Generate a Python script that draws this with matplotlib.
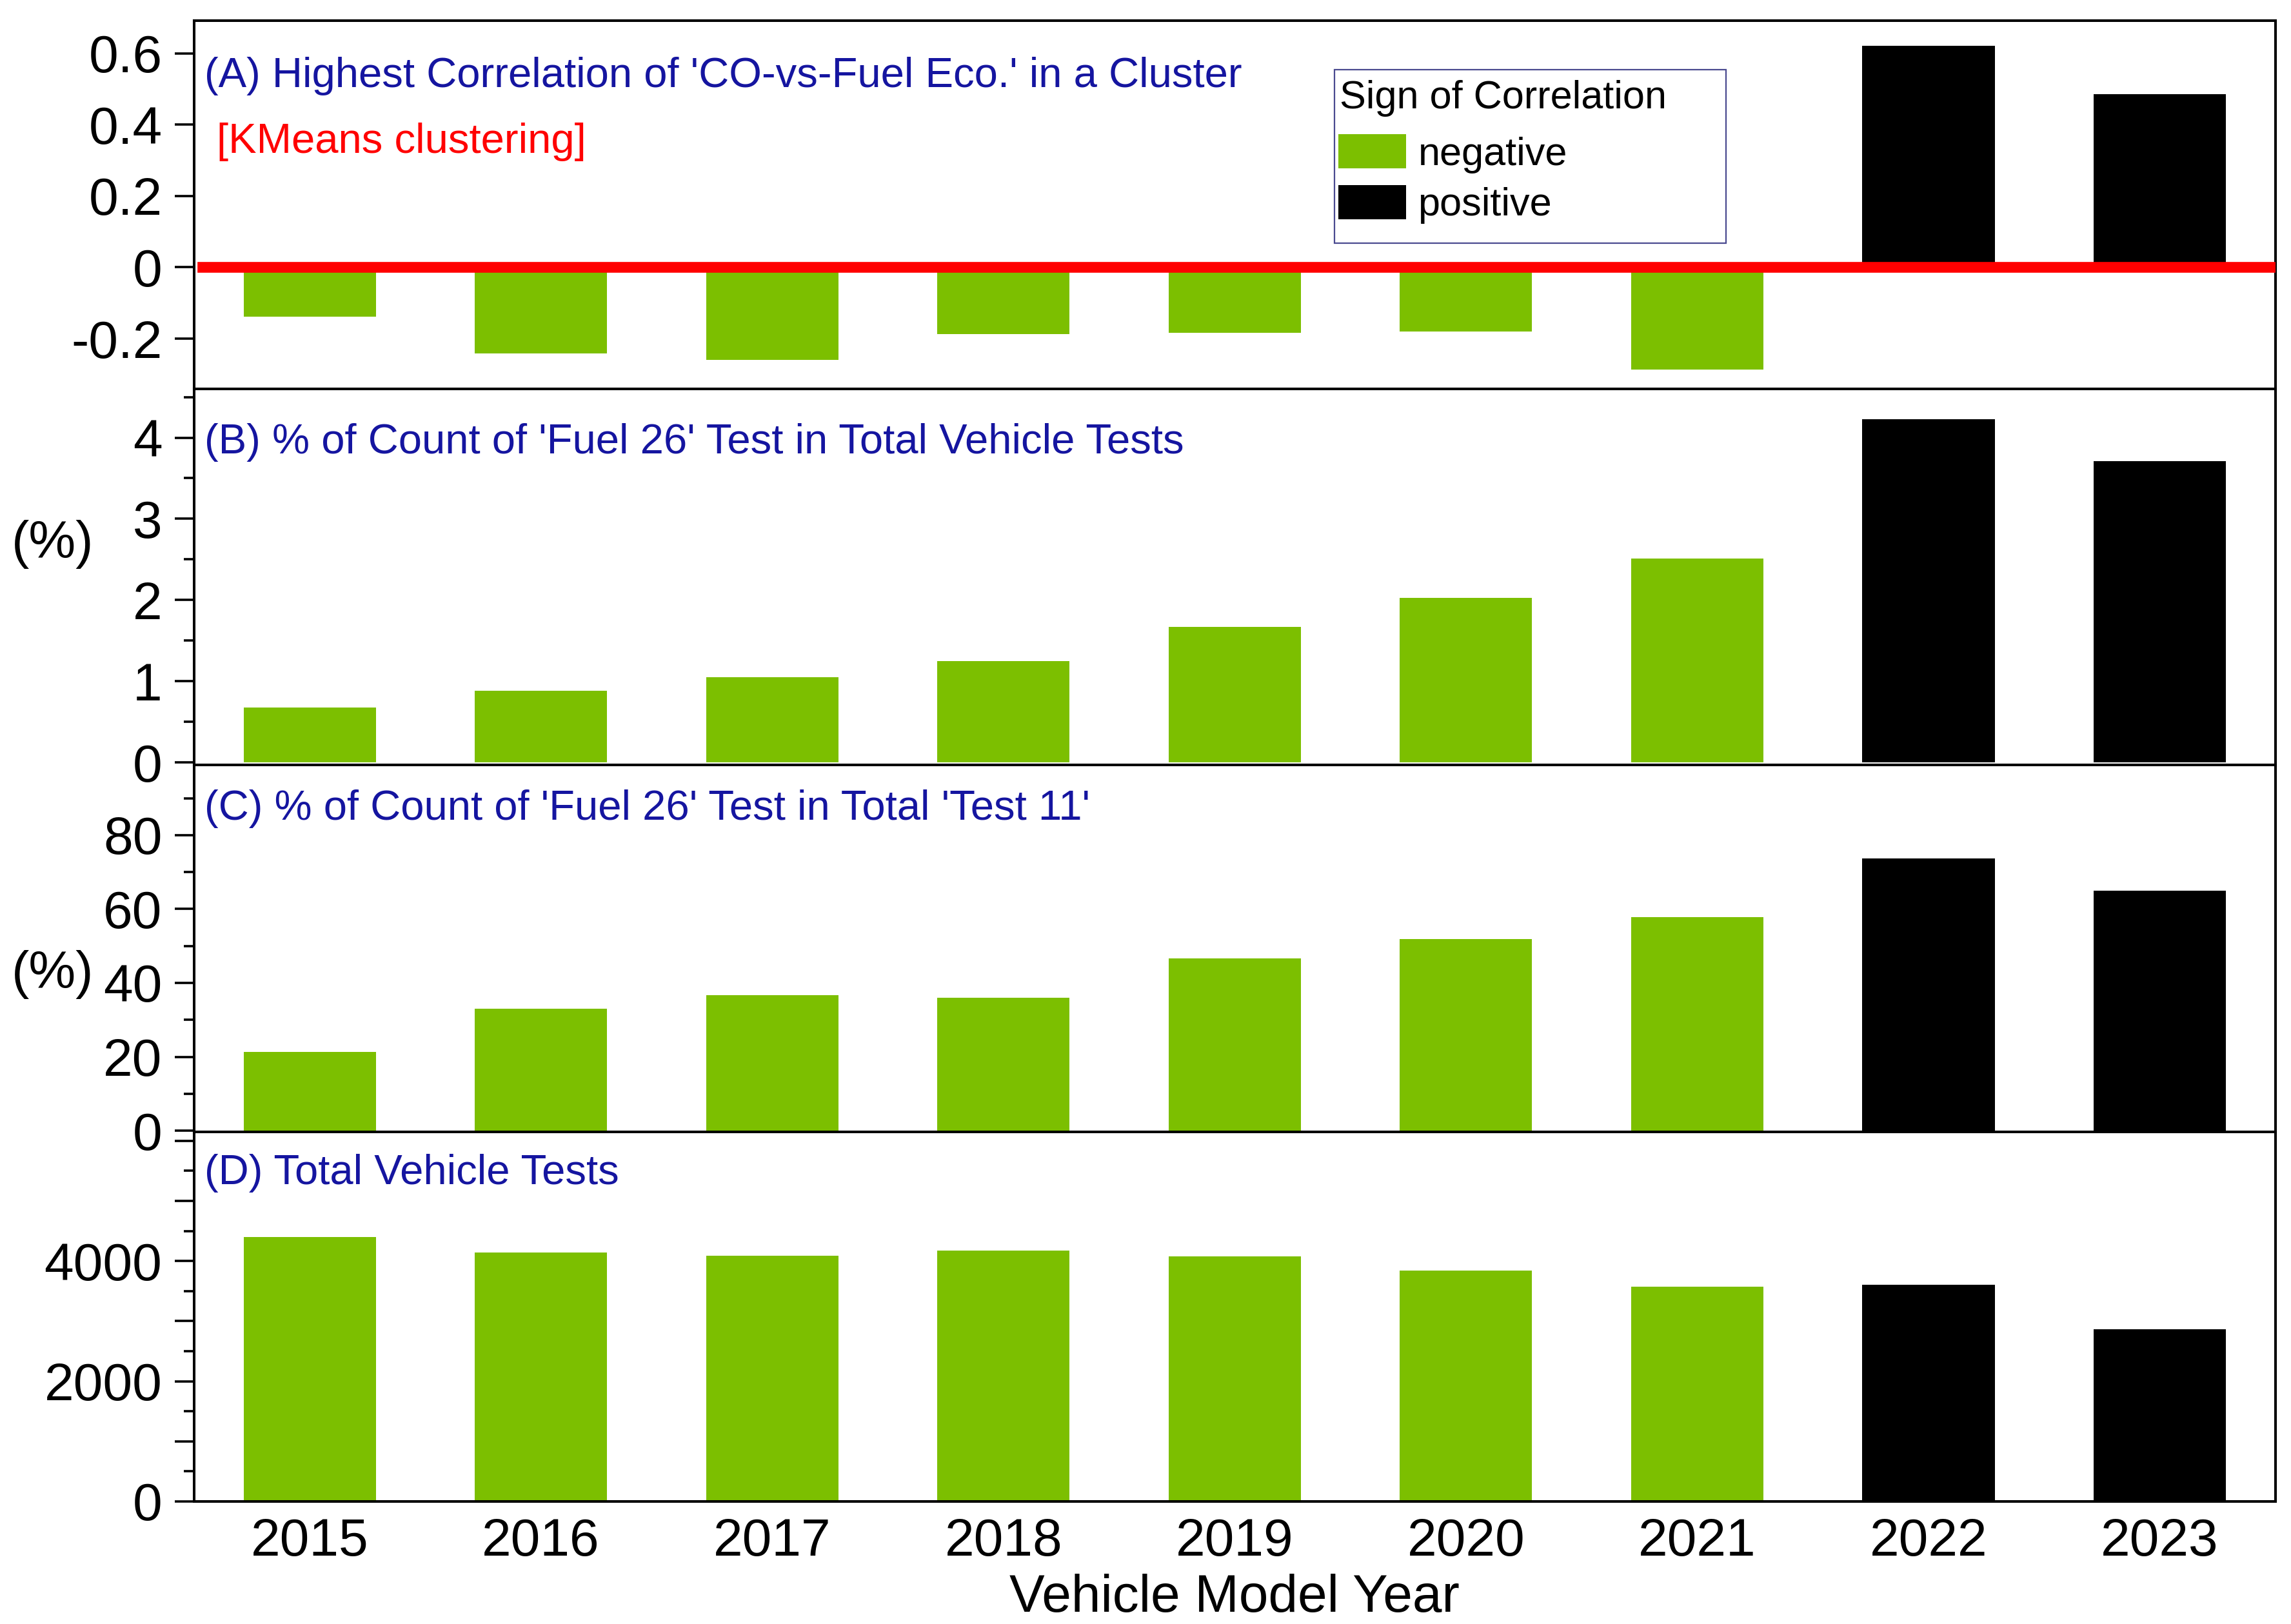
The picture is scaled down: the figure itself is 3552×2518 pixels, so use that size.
import matplotlib
matplotlib.use('Agg')
import matplotlib.pyplot as plt
from matplotlib.patches import Patch, Rectangle
from matplotlib.ticker import MultipleLocator, FixedLocator, FuncFormatter
import numpy as np

plt.rcParams['font.family'] = ['Liberation Sans', 'DejaVu Sans']

# データ
years = [2015, 2016, 2017, 2018, 2019, 2020, 2021, 2022, 2023]
corr_co_fuel = [-0.139, -0.242, -0.259, -0.188, -0.184, -0.180, -0.287, 0.622, 0.486]
pct_fuel26_total = [0.68, 0.88, 1.05, 1.25, 1.67, 2.03, 2.51, 4.23, 3.71]
pct_fuel26_test11 = [21.3, 33.1, 36.7, 36.0, 46.7, 51.8, 57.8, 73.6, 64.9]
total_tests = [4400, 4140, 4090, 4170, 4080, 3840, 3570, 3600, 2870]

GREEN = '#7CBF00'
BLACK = '#000000'
NAVY = '#1515A0'
colors = [GREEN if c < 0 else BLACK for c in corr_co_fuel]

fig = plt.figure(figsize=(35.52, 25.18), dpi=100)
gs = fig.add_gridspec(4, 1, height_ratios=[571, 583, 569, 573], hspace=0,
                      left=0.0847, right=0.9932, top=0.9873, bottom=0.0755)
axes = [fig.add_subplot(gs[i]) for i in range(4)]

series = [corr_co_fuel, pct_fuel26_total, pct_fuel26_test11, total_tests]
titles = ["(A) Highest Correlation of 'CO-vs-Fuel Eco.' in a Cluster",
          "(B) % of Count of 'Fuel 26' Test in Total Vehicle Tests",
          "(C) % of Count of 'Fuel 26' Test in Total 'Test 11'",
          "(D) Total Vehicle Tests"]
title_y = [0.849, 0.858, 0.881, 0.888]
ylims = [(-0.341, 0.692), (-0.03, 4.6), (-0.3, 99.0), (0, 6150)]

for i, (ax, vals) in enumerate(zip(axes, series)):
    ax.bar(years, vals, width=0.572, color=colors, zorder=2)
    ax.set_xlim(2014.5, 2023.5)
    ax.set_ylim(*ylims[i])
    for sp in ax.spines.values():
        sp.set_linewidth(2.9)
    ax.tick_params(axis='y', which='major', direction='out', length=21.6,
                   width=2.6, labelsize=59, pad=14)
    ax.tick_params(axis='y', which='minor', direction='out', length=11.5,
                   width=2.6)
    ax.tick_params(axis='x', length=0, labelsize=59, pad=18)
    ax.text(0.005, title_y[i], titles[i], transform=ax.transAxes,
            fontsize=47, color=NAVY, ha='left', va='center')
    if i < 3:
        ax.tick_params(axis='x', labelbottom=False)

fmt = FuncFormatter(lambda v, p: '%g' % round(v, 3))

# (A)
axA = axes[0]
axA.yaxis.set_major_locator(FixedLocator([-0.2, 0, 0.2, 0.4, 0.6]))
axA.yaxis.set_major_formatter(fmt)
axA.axhline(0, color='#FF0000', linewidth=12, zorder=3, xmin=0.004, xmax=0.998)
axA.text(0.011, 0.671, '[KMeans clustering]', transform=axA.transAxes,
         fontsize=47, color='#FF0000', ha='left', va='center')
# 凡例（枠とタイトルは別に描く）
axA.add_patch(Rectangle((0.5479, 0.396), 0.1881, 0.470, transform=axA.transAxes,
                        fill=False, edgecolor='#4A4A90', linewidth=1.6, zorder=4))
axA.text(0.5503, 0.789, 'Sign of Correlation', transform=axA.transAxes,
         fontsize=44, ha='left', va='center', zorder=5)
handles = [Patch(facecolor=GREEN, edgecolor='none', label='negative'),
           Patch(facecolor=BLACK, edgecolor='none', label='positive')]
leg = axA.legend(handles=handles, loc='upper left',
                 bbox_to_anchor=(0.5479, 0.702), frameon=False, fontsize=44,
                 handlelength=1.72, handleheight=0.95,
                 handletextpad=0.3, labelspacing=0.3, borderpad=0.1,
                 borderaxespad=0)
leg.set_zorder(5)

# (B)
axB = axes[1]
axB.yaxis.set_major_locator(MultipleLocator(1))
axB.yaxis.set_minor_locator(MultipleLocator(0.5))
axB.yaxis.set_major_formatter(fmt)

# (C)
axC = axes[2]
axC.yaxis.set_major_locator(FixedLocator([0, 20, 40, 60, 80]))
axC.yaxis.set_minor_locator(FixedLocator([10, 30, 50, 70, 90]))
axC.yaxis.set_major_formatter(fmt)

# (D)
axD = axes[3]
axD.yaxis.set_major_locator(FixedLocator([0, 1000, 2000, 3000, 4000, 5000, 6000]))
axD.yaxis.set_minor_locator(FixedLocator([500, 1500, 2500, 3500, 4500, 5500]))
axD.yaxis.set_major_formatter(FuncFormatter(
    lambda v, p: '%d' % v if (v % 2000 == 0 and v < 6000) else ''))
axD.set_xticks(years)
axD.set_xticklabels([str(y) for y in years])
axD.set_xlabel('Vehicle Model Year', fontsize=59, labelpad=8)

fig.text(0.0229, 0.665, '(%)', fontsize=59, ha='center', va='center')
fig.text(0.0229, 0.400, '(%)', fontsize=59, ha='center', va='center')

fig.savefig('out.png', dpi=100, facecolor='white')
